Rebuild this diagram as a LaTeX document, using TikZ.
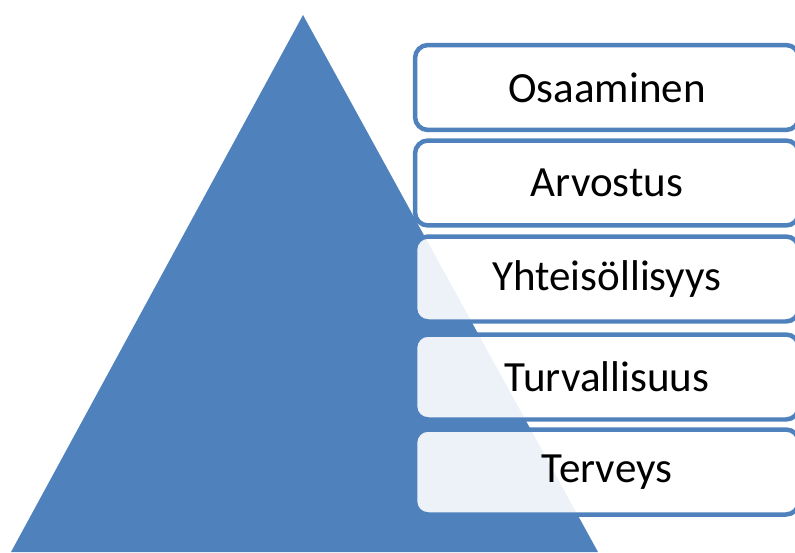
\documentclass[tikz,border=0pt]{standalone}
\usepackage{fontspec}
\setmainfont{Carlito}
\usepackage{tikz}
\usetikzlibrary{positioning}
\usepackage{xcolor}
\definecolor{pyrBlue} {HTML}{4F81BD}
\tikzset{
  level/.style = {rectangle, rounded corners=0.26cm, draw=pyrBlue,
                  line width=0.09cm, fill=white, fill opacity=0.9,
                  text opacity=1, minimum width=7.68cm,
                  minimum height=1.7cm, inner sep=0pt,
                  font=\fontsize{24.5}{29}\selectfont},
}
\begin{document}
\begin{tikzpicture}[x=0.02cm, y=-0.02cm]
\useasboundingbox (0,0) rectangle (795,552);

% Pyramid
\coordinate (top)   at (303,15);
\coordinate (left)  at (11,552);
\coordinate (right) at (598,552);
\fill[pyrBlue] (top) -- (left) -- (right) -- cycle;

% Levels
\node[level] (osa) at (607,87.5) {Osaaminen};
\node[level] (arv) at (607,183)  {Arvostus};
\node[level] (yht) at (607,279)  {Yhteisöllisyys};
\node[level] (tur) at (607,377)  {Turvallisuus};
\node[level] (ter) at (607,472)  {Terveys};

\end{tikzpicture}
\end{document}
